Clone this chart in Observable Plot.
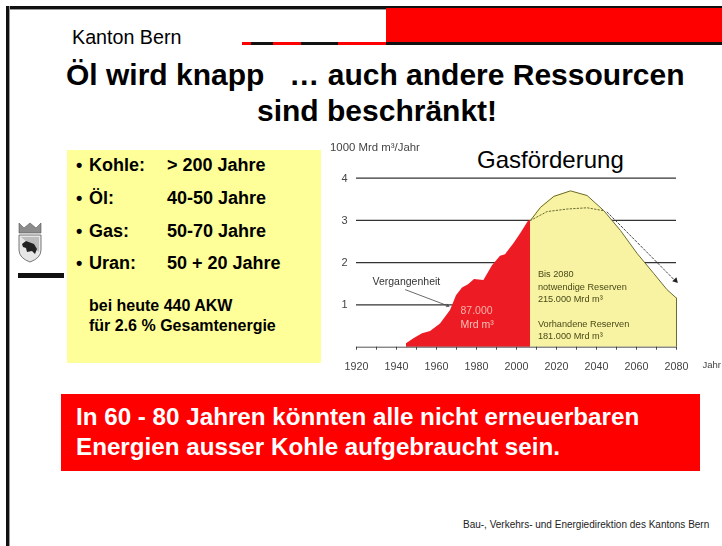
<!DOCTYPE html>
<html><head><meta charset="utf-8">
<script src="https://cdn.jsdelivr.net/npm/d3@7"></script>
<script src="https://cdn.jsdelivr.net/npm/@observablehq/plot@0.6"></script>
<style>
html,body{margin:0;padding:0;background:#fff}
#slide{position:relative;width:722px;height:546px;overflow:hidden;font-family:"Liberation Sans",Arial,sans-serif;color:#000}
.b{position:absolute}
.t{position:absolute;white-space:pre;line-height:1;}
.k{font-size:18px;font-weight:700}
.s{font-size:16px;font-weight:700}
.h{font-size:30px;font-weight:700}
.w{font-size:24.2px;font-weight:700;color:#fff}
#chart{position:absolute;left:320px;top:130px;filter:blur(.45px)}
#chart svg{display:block;background:transparent}
</style></head><body>
<div id="slide">
 <div class="b" style="left:6px;top:6px;width:716px;height:3px;background:#111;box-shadow:0 1px 0 #999"></div>
 <div class="b" style="left:6px;top:6px;width:3px;height:540px;background:#111;box-shadow:1px 0 0 #999"></div>
 <div class="b" style="left:386px;top:8px;width:336px;height:34px;background:#f00"></div>
 <div class="b" style="left:242px;top:41.5px;width:9px;height:3px;background:#f00"></div>
 <div class="b" style="left:251px;top:41.5px;width:22px;height:3px;background:#111"></div>
 <div class="b" style="left:273px;top:41.5px;width:28px;height:3px;background:#f00"></div>
 <div class="b" style="left:301px;top:41.5px;width:37px;height:3px;background:#111"></div>
 <div class="b" style="left:338px;top:41.5px;width:48px;height:3px;background:#f00"></div>
 <div class="b" style="left:386px;top:41.5px;width:336px;height:3px;background:#111"></div>
 <div class="t" style="left:72px;top:28px;font-size:19.7px">Kanton Bern</div>
 <div class="t h" style="left:66px;top:60px">Öl wird knapp   … auch andere Ressourcen</div>
 <div class="t h" style="left:257px;top:96px">sind beschränkt!</div>

 <svg class="b" style="left:17px;top:222px;filter:blur(.5px)" width="26" height="42" viewBox="0 0 26 42">
  <path d="M2 1 L2 11 L24 11 L24 1 L19 6 L13 1 L7 6 Z" fill="#8c8c8c" stroke="#555" stroke-width=".6"/>
  <path d="M2 13 L24 13 L24 28 Q24 36 13 40 Q2 36 2 28 Z" fill="#e6e6e6" stroke="#777" stroke-width="1"/>
  <path d="M4 15 L22 30 L22 15 Z" fill="#bdbdbd"/>
  <path d="M5 22 L9 19 L17 22 L20 27 L18 32 L15 29 L10 30 L9 26 L6 25 Z" fill="#222"/>
 </svg>
 <div class="b" style="left:18px;top:273px;width:46px;height:4.5px;background:#111;filter:blur(.5px)"></div>

 <div class="b" style="left:67px;top:150px;width:254px;height:213px;background:#ffff99"></div>
 <div class="t k" style="left:76px;top:156px">•</div><div class="t k" style="left:89px;top:156px">Kohle:</div><div class="t k" style="left:167px;top:156px">&gt; 200 Jahre</div>
 <div class="t k" style="left:76px;top:189px">•</div><div class="t k" style="left:89px;top:189px">Öl:</div><div class="t k" style="left:167px;top:189px">40-50 Jahre</div>
 <div class="t k" style="left:76px;top:222px">•</div><div class="t k" style="left:89px;top:222px">Gas:</div><div class="t k" style="left:167px;top:222px">50-70 Jahre</div>
 <div class="t k" style="left:76px;top:254px">•</div><div class="t k" style="left:89px;top:254px">Uran:</div><div class="t k" style="left:167px;top:254px">50 + 20 Jahre</div>
 <div class="t s" style="left:89px;top:298px">bei heute 440 AKW</div>
 <div class="t s" style="left:89px;top:318px">für 2.6 % Gesamtenergie</div>

 <div id="chart"></div>
 <div class="t" style="left:330px;top:142px;font-size:11.4px;color:#444;filter:blur(.3px)">1000 Mrd m³/Jahr</div>
 <div class="t" style="left:477px;top:148px;font-size:24px">Gasförderung</div>

 <div class="b" style="left:61px;top:394px;width:639px;height:77px;background:#f00"></div>
 <div class="t w" style="left:76px;top:404.5px">In 60 - 80 Jahren könnten alle nicht erneuerbaren</div>
 <div class="t w" style="left:76px;top:434.5px">Energien ausser Kohle aufgebraucht sein.</div>
 <div class="t" style="left:463px;top:519.5px;font-size:10px;color:#222">Bau-, Verkehrs- und Energiedirektion des Kantons Bern</div>
</div>
<script>
const pastYears = [1945,1948.7,1953,1957,1962,1967,1970,1973,1976,1979,1983.7,1988,1992,1994.5,1998.7,2002,2006,2007];
const pastGas   = [0.08,0.2,0.32,0.37,0.55,0.87,1.22,1.4,1.48,1.6,1.58,1.93,2.15,2.19,2.45,2.68,2.98,3.0];
const futureYears = [2007,2012,2018.7,2027,2035.3,2043.7,2052,2060.3,2068.7,2075.3,2080];
const futureGas   = [3.0,3.31,3.57,3.7,3.59,3.23,2.76,2.22,1.74,1.36,1.16];
const flatYears = [2007,2015.3,2025.3,2035.3,2043.7];
const flatGas   = [3.0,3.21,3.27,3.3,3.23];
const gridValues = [1,2,3,4];
const decades = [1920,1930,1940,1950,1960,1970,1980,1990,2000,2010,2020,2030,2040,2050,2060,2070,2080];
const bigNotes = [
 {year:1928,v:1.56,label:"Vergangenheit",c:"#333"},
 {year:1972,v:0.87,label:"87.000",c:"#f8b0a8"},
 {year:1972,v:0.53,label:"Mrd m³",c:"#f8c0b8"}
];
const smallNotes = [
 {year:2010.7,v:1.72,label:"Bis 2080",c:"#4a4a18"},
 {year:2010.7,v:1.42,label:"notwendige Reserven",c:"#4a4a18"},
 {year:2010.7,v:1.14,label:"215.000 Mrd m³",c:"#4a4a18"},
 {year:2010.7,v:0.55,label:"Vorhandene Reserven",c:"#4a4a18"},
 {year:2010.7,v:0.26,label:"181.000 Mrd m³",c:"#4a4a18"}
];
const toRows = (xs,ys)=>xs.map((x,i)=>({x,y:ys[i]}));
const past=toRows(pastYears,pastGas), future=toRows(futureYears,futureGas), flat=toRows(flatYears,flatGas);
const plot = Plot.plot({
  width:402,height:250,marginLeft:36,marginRight:46,marginTop:47.7,marginBottom:33.3,
  style:{background:"transparent",fontFamily:"'Liberation Sans',Arial,sans-serif"},
  x:{domain:[1920,2080]},y:{domain:[0,4]},
  marks:[
    Plot.ruleY(gridValues,{stroke:"#333",strokeWidth:1.3}),
    Plot.areaY(future,{x:"x",y:"y",fill:"#f7f3a3"}),
    Plot.lineY(future,{x:"x",y:"y",stroke:"#6b6a30",strokeWidth:1}),
    Plot.ruleX([2080],{y1:0,y2:1.16,stroke:"#6b6a30"}),
    Plot.areaY(past,{x:"x",y:"y",fill:"#ed1c24"}),
    Plot.lineY(flat,{x:"x",y:"y",stroke:"#6b6a30",strokeWidth:1,strokeDasharray:"1.5,2"}),
    Plot.line([{x:2045.3,y:3.2},{x:2080,y:1.54}],{x:"x",y:"y",stroke:"#444",strokeWidth:1,strokeDasharray:"2,2"}),
    Plot.dot([{x:2079.5,y:1.58}],{x:"x",y:"y",symbol:"triangle",r:2.2,fill:"#222",rotate:136}),
    Plot.arrow([{a:1944.5,b:1.36,c:1966.2,d:0.97}],{x1:"a",y1:"b",x2:"c",y2:"d",stroke:"#444",strokeWidth:.8,headLength:5}),
    Plot.ruleY([0],{stroke:"#555",strokeWidth:1}),
    Plot.axisX({ticks:decades,tickSize:3,tickPadding:12,fontSize:10.7,color:"#444",label:null,
      tickFormat:d=>d%20===0?String(d):""}),
    Plot.axisY({ticks:gridValues,tickSize:0,tickPadding:9,fontSize:11,color:"#444",label:null,tickFormat:"d"}),
    Plot.text(["Jahr"],{x:2093,y:0,dy:18,text:d=>d,textAnchor:"start",fontSize:9.5,fill:"#444",clip:false}),
    Plot.text(bigNotes,{x:"year",y:"v",text:"label",fill:"c",textAnchor:"start",fontSize:10.5}),
    Plot.text(smallNotes,{x:"year",y:"v",text:"label",fill:"c",textAnchor:"start",fontSize:9.2})
  ]
});
document.getElementById("chart").appendChild(plot);
</script>
</body></html>
